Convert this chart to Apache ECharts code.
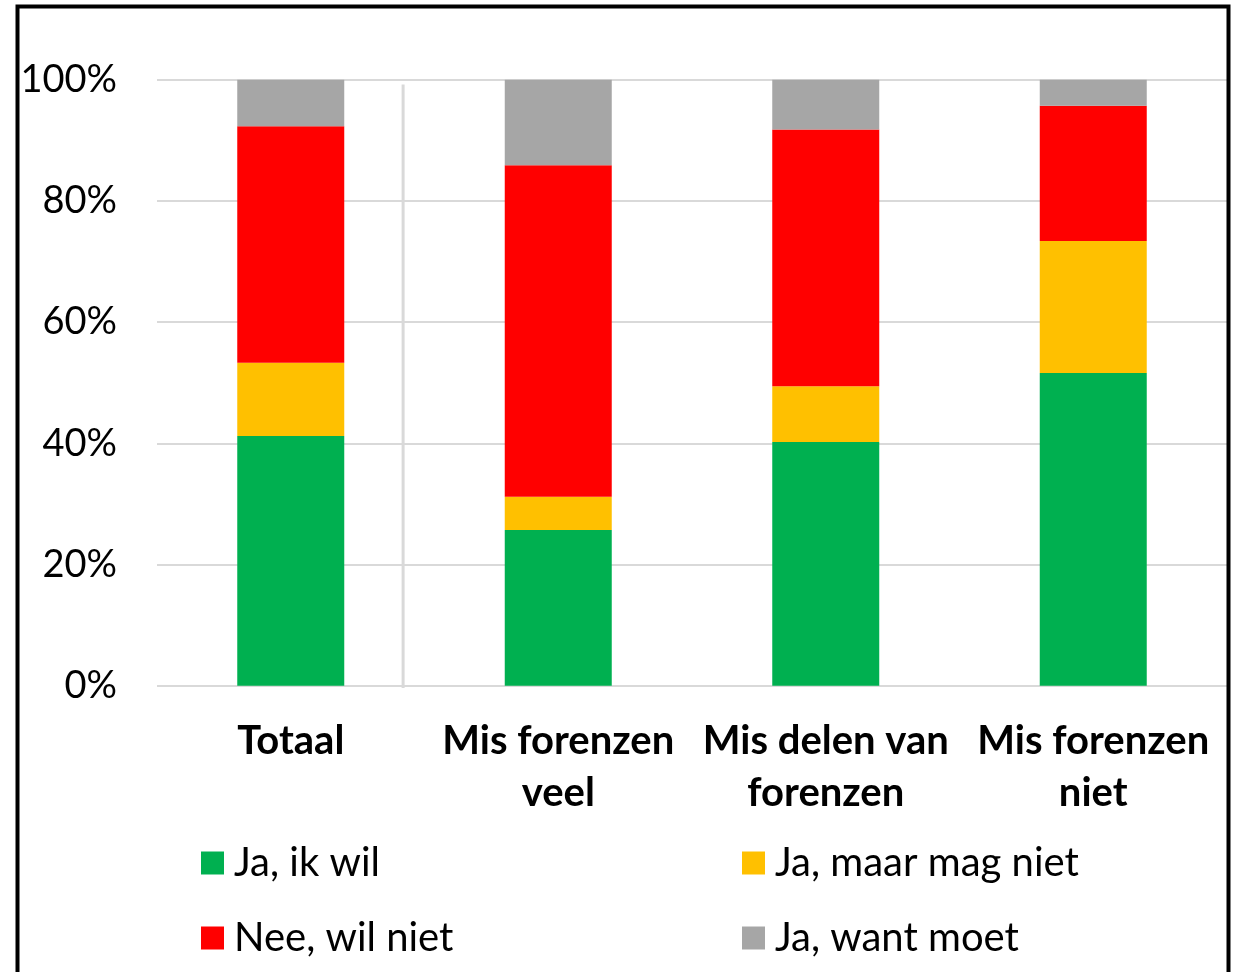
<!DOCTYPE html>
<html>
<head>
<meta charset="utf-8">
<script src="https://cdn.jsdelivr.net/npm/echarts@6/dist/echarts.min.js"></script>
<style>html,body{margin:0;padding:0;background:#fff;}#c{width:1240px;height:972px;}</style>
</head>
<body>
<div id="c"></div>
<script>
var categories = ['Totaal', 'Mis forenzen\nveel', 'Mis delen van\nforenzen', 'Mis forenzen\nniet'];
var seriesNames = ['Ja, ik wil', 'Ja, maar mag niet', 'Nee, wil niet', 'Ja, want moet'];
var jaIkWil = [41.2, 25.7, 40.2, 51.6];
var jaMaarMagNiet = [12.1, 5.5, 9.2, 21.8];
var neeWilNiet = [39.0, 54.7, 42.4, 22.3];
var jaWantMoet = [7.7, 14.1, 8.2, 4.3];
var yTicks = [0, 20, 40, 60, 80, 100];
var separatorX = 0.42;

var colors = ['#00B050', '#FFC000', '#FF0000', '#A6A6A6'];
var values = [jaIkWil, jaMaarMagNiet, neeWilNiet, jaWantMoet];
var FONT = 'Lato';

var chart = echarts.init(document.getElementById('c'));
var series = seriesNames.map(function (n, i) {
  return {
    name: n, type: 'bar', stack: 'total', barWidth: 107,
    itemStyle: { color: colors[i] },
    data: values[i], silent: true
  };
});
series.push({
  type: 'line', xAxisIndex: 1, yAxisIndex: 0, clip: false, silent: true,
  symbol: 'none', lineStyle: { color: '#D9D9D9', width: 3 },
  data: [[separatorX, -0.4], [separatorX, 99.2]], z: 1
});

var legendPos = [[201, 840], [742, 840], [201, 915], [742, 915]];
var legends = seriesNames.map(function (n, i) {
  return {
    data: [n], left: legendPos[i][0], top: legendPos[i][1], padding: 0,
    icon: 'rect', itemWidth: 23, itemHeight: 23, itemGap: 0,
    selectedMode: false,
    textStyle: { fontFamily: FONT, fontSize: 40, color: '#000', lineHeight: 46, padding: [0, 0, 0, 5] }
  };
});

chart.setOption({
  animation: false,
  backgroundColor: '#fff',
  grid: { left: 157, right: 13, top: 79.7, bottom: 286.3, containLabel: false },
  legend: legends,
  xAxis: [{
    type: 'category', data: categories,
    axisLine: { show: false }, axisTick: { show: false },
    axisLabel: { interval: 0, margin: 29, fontFamily: FONT, fontSize: 40, fontWeight: 'bold', color: '#000', lineHeight: 52 }
  }, {
    type: 'value', min: -0.5, max: 3.5, show: false
  }],
  yAxis: {
    type: 'value', min: yTicks[0], max: yTicks[yTicks.length - 1], interval: 20,
    axisLine: { show: false }, axisTick: { show: false },
    splitLine: { lineStyle: { color: '#D9D9D9', width: 2 } },
    axisLabel: { margin: 40, fontFamily: FONT, fontSize: 38, color: '#000', formatter: '{value}%' }
  },
  series: series,
  graphic: [{
    type: 'rect', shape: { x: 17.5, y: 6.5, width: 1211, height: 1010 },
    style: { fill: 'none', stroke: '#000', lineWidth: 4 }, silent: true, z: 100
  }]
});
</script>
</body>
</html>
